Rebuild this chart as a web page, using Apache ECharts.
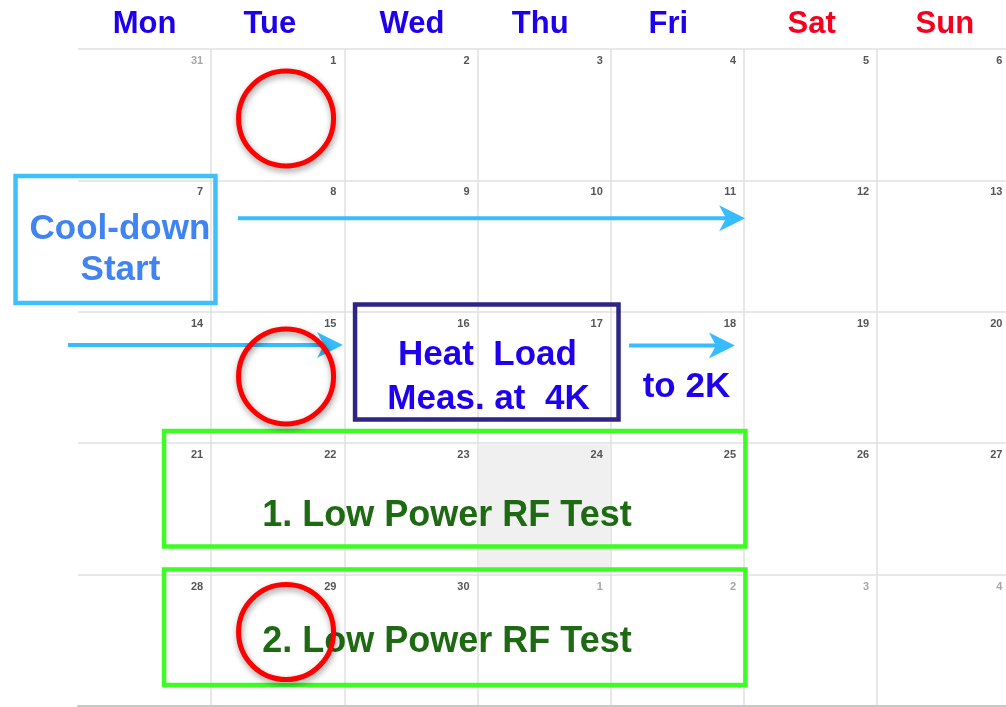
<!DOCTYPE html>
<html><head><meta charset="utf-8">
<script src="https://cdn.jsdelivr.net/npm/echarts@6/dist/echarts.min.js"></script>
<style>html,body{margin:0;padding:0;background:#fff}#c{width:1006px;height:707px}</style>
</head><body><div id="c"></div>
<script>
// ---- data ----
const weekdays = ['Mon', 'Tue', 'Wed', 'Thu', 'Fri', 'Sat', 'Sun'];
const weekendDays = ['Sat', 'Sun'];
const weeks = [
  [31, 1, 2, 3, 4, 5, 6],
  [7, 8, 9, 10, 11, 12, 13],
  [14, 15, 16, 17, 18, 19, 20],
  [21, 22, 23, 24, 25, 26, 27],
  [28, 29, 30, 1, 2, 3, 4]
];
const highlightedDay = 24;
// annotations, in calendar units (x = weekday column, y = week row)
const boxRects = [            // [x0, y0, x1, y1]
  [-0.469, 0.967, 1.032, 1.933],
  [2.080, 1.944, 4.058, 2.820],
  [0.646, 2.907, 5.011, 3.786],
  [0.646, 3.961, 5.011, 4.840]
];
const boxKinds = ['cool', 'heat', 'rf', 'rf'];
const arrowSpans = [          // [xStart, y, xEnd]
  [1.201, 1.288, 5.008],
  [-0.075, 2.253, 1.989],
  [4.137, 2.256, 4.932]
];
const noteTexts = ['Cool-down', 'Start', 'Heat  Load', 'Meas. at  4K', 'to 2K',
  '1. Low Power RF Test', '2. Low Power RF Test'];
const notePositions = [[0.315, 1.351], [0.319, 1.667], [3.074, 2.314], [3.082, 2.645],
  [4.568, 2.557], [2.770, 3.535], [2.770, 4.494]];
const noteKinds = ['cool', 'cool', 'heat', 'heat', 'heat', 'rf', 'rf'];
const circleMarks = [[1.562, 0.529], [1.562, 2.492], [1.562, 4.437]];

// ---- styles ----
const FONT = '"Liberation Sans", Arial, Helvetica, sans-serif';
const boxColor = { cool: '#3ec0fc', heat: '#2e2584', rf: '#3cfc24' };
const textColor = { cool: '#3f84f2', heat: '#1f00ee', rf: '#1d6a12' };
const textSize = { cool: 35, heat: 35, rf: 36 };
const headerShift = [0, -8, 1, -4, -9, 1, 1];

const cellData = [];
weeks.forEach((w, r) => w.forEach((d, c) => {
  const other = (r === 0 && d > 7) || (r === weeks.length - 1 && d < 7) ? 1 : 0;
  cellData.push([c, r, d, other, (!other && d === highlightedDay) ? 1 : 0]);
}));

const rich = {};
headerShift.forEach((s, i) => {
  rich['h' + i] = {
    fontSize: 31, fontWeight: 'bold', fontFamily: FONT, lineHeight: 31,
    color: weekendDays.includes(weekdays[i]) ? '#f5001e' : '#1e00ee',
    padding: s < 0 ? [0, -2 * s, 0, 0] : [0, 0, 0, 2 * s]
  };
});

const chart = echarts.init(document.getElementById('c'), null, { renderer: 'canvas' });
chart.setOption({
  animation: false,
  backgroundColor: '#fff',
  grid: { left: 78, top: 49, width: 932.4, height: 657, outerBoundsMode: 'none', containLabel: false },
  xAxis: [
    {
      type: 'value', min: 0, max: 7, interval: 1, position: 'bottom',
      axisLine: { show: true, onZero: false, lineStyle: { color: '#c8c8c8', width: 2 } },
      axisTick: { show: false }, axisLabel: { show: false },
      splitLine: { show: true, showMinLine: false, lineStyle: { color: '#e0e0e0', width: 1.5 } }
    },
    {
      type: 'category', position: 'top', data: weekdays, boundaryGap: true,
      axisLine: { show: false }, axisTick: { show: false }, splitLine: { show: false },
      axisLabel: {
        show: true, margin: 9, interval: 0,
        formatter: (v, i) => '{h' + i + '|' + v + '}',
        rich: rich
      }
    }
  ],
  yAxis: {
    type: 'value', min: 0, max: 5, interval: 1, inverse: true,
    axisLine: { show: false }, axisTick: { show: false }, axisLabel: { show: false },
    splitLine: { show: true, lineStyle: { color: '#e0e0e0', width: 1.5 } }
  },
  series: [
    {
      type: 'custom', name: 'cells', xAxisIndex: 0, yAxisIndex: 0, z: 1, silent: true,
      data: cellData,
      renderItem: (params, api) => {
        const c = api.value(0), r = api.value(1);
        const p0 = api.coord([c, r]), p1 = api.coord([c + 1, r + 1]);
        const children = [];
        if (api.value(4)) {
          children.push({ type: 'rect', shape: { x: p0[0] + 1, y: p0[1] + 1, width: p1[0] - p0[0] - 2, height: p1[1] - p0[1] - 2 },
            style: { fill: '#f0f0f0' } });
        }
        children.push({ type: 'text', style: {
          text: String(api.value(2)), x: p1[0] - 8, y: p0[1] + 12, align: 'right', verticalAlign: 'middle',
          fill: api.value(3) ? '#a6a6a6' : '#555555', font: 'bold 11px ' + FONT } });
        return { type: 'group', children };
      }
    },
    {
      type: 'custom', name: 'boxes', z: 3, silent: true, clip: false,
      data: boxRects,
      renderItem: (params, api) => {
        const a = api.coord([api.value(0), api.value(1)]), b = api.coord([api.value(2), api.value(3)]);
        return { type: 'rect', shape: { x: a[0], y: a[1], width: b[0] - a[0], height: b[1] - a[1] },
          style: { fill: 'none', stroke: boxColor[boxKinds[params.dataIndex]], lineWidth: 4.5 } };
      }
    },
    {
      type: 'custom', name: 'arrows', z: 4, silent: true, clip: false,
      data: arrowSpans,
      renderItem: (params, api) => {
        const a = api.coord([api.value(0), api.value(1)]), b = api.coord([api.value(2), api.value(1)]);
        const y = a[1], tip = b[0];
        return { type: 'group', children: [
          { type: 'line', shape: { x1: a[0], y1: y, x2: tip - 18, y2: y }, style: { stroke: '#36bcff', lineWidth: 4 } },
          { type: 'polygon', shape: { points: [[tip, y], [tip - 26, y - 13], [tip - 19, y], [tip - 26, y + 13]] },
            style: { fill: '#36bcff' } }
        ] };
      }
    },
    {
      type: 'custom', name: 'notes', z: 5, silent: true, clip: false,
      data: notePositions,
      renderItem: (params, api) => {
        const p = api.coord([api.value(0), api.value(1)]);
        const k = noteKinds[params.dataIndex];
        return { type: 'text', style: { text: noteTexts[params.dataIndex], x: p[0], y: p[1] + 2.5,
          align: 'center', verticalAlign: 'middle', font: 'bold ' + textSize[k] + 'px ' + FONT,
          fill: textColor[k] } };
      }
    },
    {
      type: 'scatter', name: 'circles', z: 6, silent: true, clip: false,
      data: circleMarks, symbol: 'circle', symbolSize: 95,
      itemStyle: { color: 'rgba(0,0,0,0)', borderColor: '#ff0000', borderWidth: 5, opacity: 1,
        shadowBlur: 6, shadowColor: 'rgba(0,0,0,0.4)', shadowOffsetX: 1, shadowOffsetY: 3 },
      emphasis: { disabled: true }
    }
  ]
});
</script>
</body></html>
